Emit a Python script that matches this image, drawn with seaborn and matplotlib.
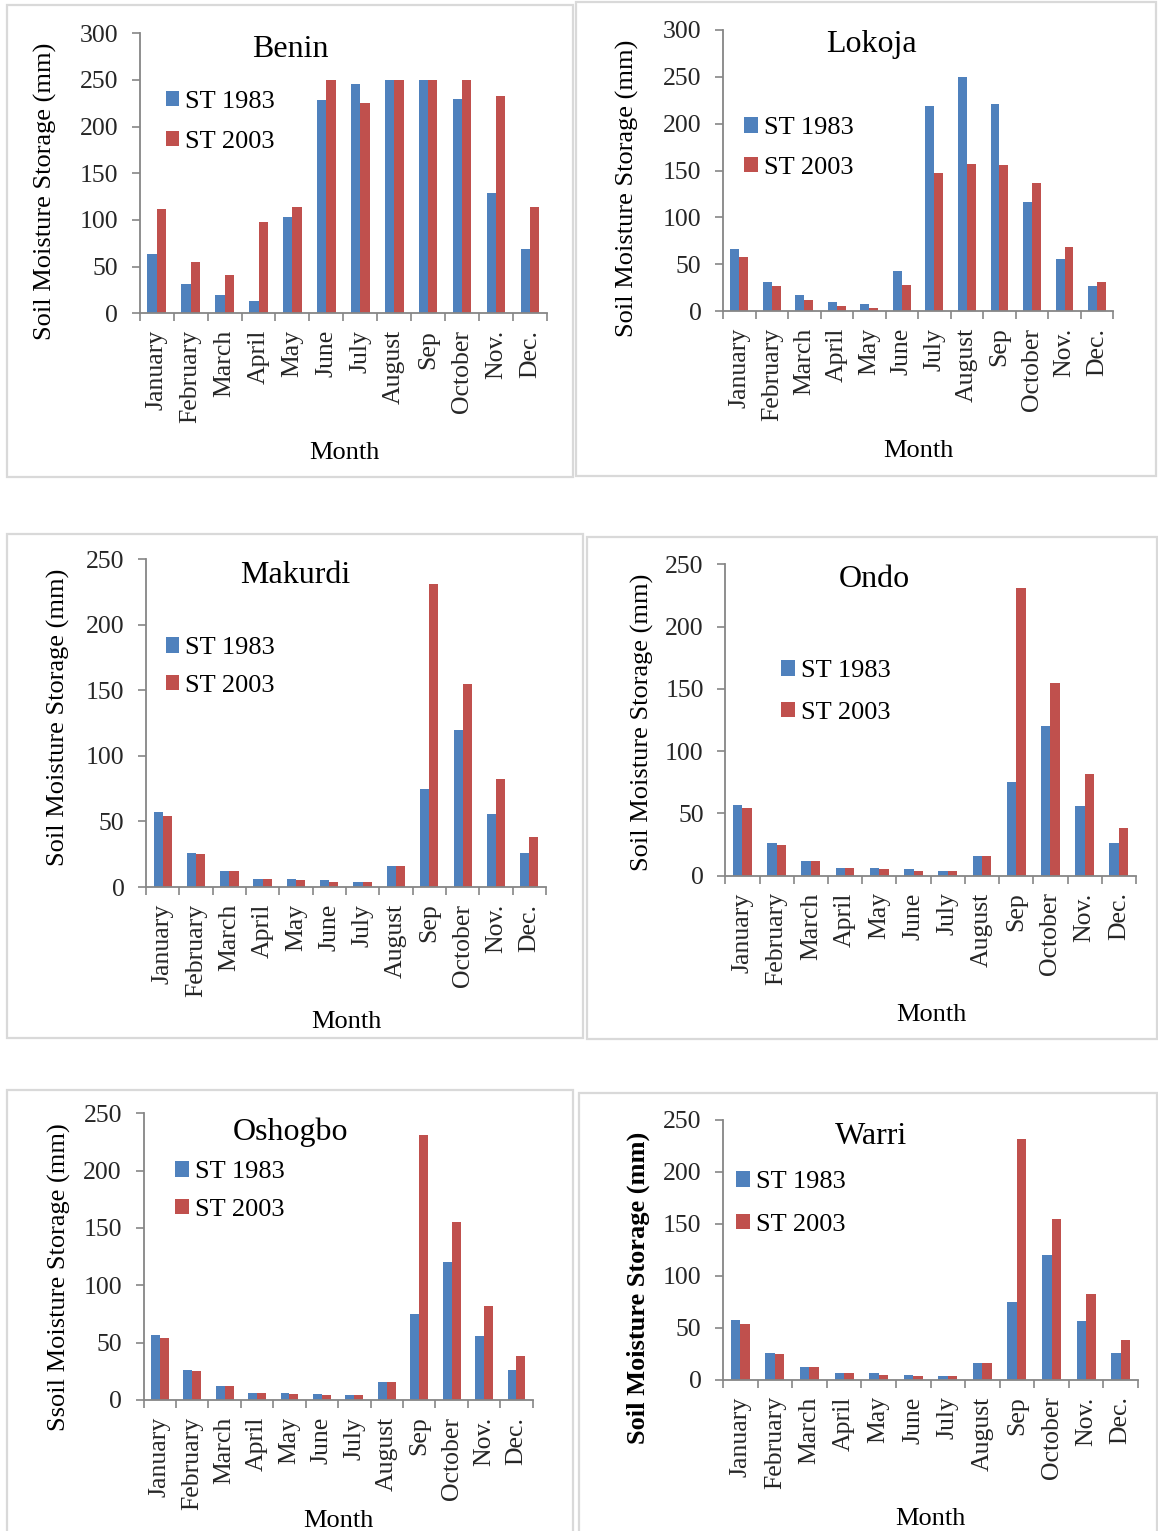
import matplotlib
matplotlib.use("Agg")
import matplotlib.pyplot as plt
import pandas as pd
import seaborn as sns
from matplotlib.patches import Rectangle

# ---- data -------------------------------------------------------------
months = ["January", "February", "March", "April", "May", "June",
          "July", "August", "Sep", "October", "Nov.", "Dec."]
series_names = ["ST 1983", "ST 2003"]

benin_1983 = [64, 31, 20, 13, 103, 229, 246, 250, 250, 230, 129, 69]
benin_2003 = [112, 55, 41, 98, 114, 250, 225, 250, 250, 250, 233, 114]

lokoja_1983 = [66, 31, 17, 10, 7, 43, 219, 250, 221, 116, 55, 27]
lokoja_2003 = [58, 27, 12, 5, 3, 28, 147, 157, 156, 137, 68, 31]

makurdi_1983 = [57, 26, 12, 6, 6, 5, 4, 16, 75, 120, 56, 26]
makurdi_2003 = [54, 25, 12, 6, 5, 4, 4, 16, 231, 155, 82, 38]

ondo_1983 = [57, 26, 12, 6, 6, 5, 4, 16, 75, 120, 56, 26]
ondo_2003 = [54, 25, 12, 6, 5, 4, 4, 16, 231, 155, 82, 38]

oshogbo_1983 = [57, 26, 12, 6, 6, 5, 4, 16, 75, 120, 56, 26]
oshogbo_2003 = [54, 25, 12, 6, 5, 4, 4, 16, 231, 155, 82, 38]

warri_1983 = [57, 26, 12, 6, 6, 5, 4, 16, 75, 120, 56, 26]
warri_2003 = [54, 25, 12, 6, 5, 4, 4, 16, 231, 155, 82, 38]

y_max_north = 300
y_max_south = 250
y_label = "Soil Moisture Storage (mm)"
y_label_oshogbo = "Ssoil Moisture Storage (mm)"
x_label = "Month"

# ---- style ------------------------------------------------------------
sns.set_theme(style="white")
plt.rcParams["font.family"] = ["Liberation Serif", "DejaVu Serif"]
plt.rcParams["text.color"] = "black"

BLUE = "#4F81BD"
RED = "#C0504D"
AXIS_GREY = "#868686"
BOX_GREY = "#D9D9D9"

W, H = 1158, 1531
fig = plt.figure(figsize=(W / 100, H / 100), dpi=100)
fig.patch.set_facecolor("white")


def fx(x):
    return x / W


def fy(y):
    return 1 - y / H


# one entry per station panel, positions in pixels
panels = [
    dict(name="Benin", a=benin_1983, b=benin_2003, ymax=y_max_north, ylab=y_label, bold=False,
         axes=(139.8, 33.3, 546.8, 313.3), box=(7, 5, 572.5, 477),
         title=(290, 56.7), month=(344, 459), legend=(165.5, 121.7, 0.73), ylab_pos=(45, 191.7)),
    dict(name="Lokoja", a=lokoja_1983, b=lokoja_2003, ymax=y_max_north, ylab=y_label, bold=False,
         axes=(723, 30, 1113.3, 311), box=(576, 2, 1156, 476),
         title=(871, 51.7), month=(918, 456.7), legend=(744, 148, 0.69), ylab_pos=(627, 188.3)),
    dict(name="Makurdi", a=makurdi_1983, b=makurdi_2003, ymax=y_max_south, ylab=y_label, bold=False,
         axes=(146, 559, 546, 887), box=(7.5, 534, 583, 1038),
         title=(295, 582.7), month=(346, 1028), legend=(165.5, 667, 0.61), ylab_pos=(58, 717.5)),
    dict(name="Ondo", a=ondo_1983, b=ondo_2003, ymax=y_max_south, ylab=y_label, bold=False,
         axes=(725.3, 564.3, 1136, 875.7), box=(587, 537, 1157, 1039),
         title=(874, 586.7), month=(931.5, 1020.7), legend=(781, 692, 0.77), ylab_pos=(642, 722.8)),
    dict(name="Oshogbo", a=oshogbo_1983, b=oshogbo_2003, ymax=y_max_south, ylab=y_label_oshogbo, bold=False,
         axes=(143.5, 1113.3, 532.7, 1400), box=(7.4, 1090, 573.4, 1540),
         title=(291, 1140), month=(338.5, 1526.7), legend=(175, 1191, 0.61), ylab_pos=(59, 1276.7)),
    dict(name="Warri", a=warri_1983, b=warri_2003, ymax=y_max_south, ylab=y_label, bold=True,
         axes=(723, 1119.7, 1138, 1379.7), box=(579, 1093, 1157, 1540),
         title=(871, 1144), month=(930, 1525), legend=(736, 1203.4, 0.81), ylab_pos=(638, 1287.5)),
]

for p in panels:
    # panel frame
    x0, y0, x1, y1 = p["box"]
    fig.patches.append(Rectangle((fx(x0), fy(y1)), fx(x1) - fx(x0), fy(y0) - fy(y1),
                                 transform=fig.transFigure, fill=False,
                                 edgecolor=BOX_GREY, linewidth=1.6, zorder=0))

    left, top, right, bottom = p["axes"]
    ax = fig.add_axes([fx(left), fy(bottom), fx(right) - fx(left), fy(top) - fy(bottom)])
    ax.set_facecolor("none")

    df = pd.DataFrame({
        "Month": months * 2,
        "Storage": list(p["a"]) + list(p["b"]),
        "Series": [series_names[0]] * len(months) + [series_names[1]] * len(months),
    })
    sns.barplot(data=df, x="Month", y="Storage", hue="Series", order=months,
                hue_order=series_names, palette=[BLUE, RED], saturation=1,
                width=0.55, gap=0, linewidth=0, ax=ax)

    ax.set_xlim(-0.5, len(months) - 0.5)
    ax.set_ylim(0, p["ymax"])
    ax.set_xlabel("")
    ax.set_ylabel("")

    for side in ("top", "right"):
        ax.spines[side].set_visible(False)
    for side in ("left", "bottom"):
        ax.spines[side].set_color(AXIS_GREY)
        ax.spines[side].set_linewidth(1.3)

    ax.set_yticks(range(0, p["ymax"] + 1, 50))
    ax.tick_params(axis="y", direction="out", length=6, width=1.2, color=AXIS_GREY,
                   labelsize=18.5, pad=9.5, left=True)
    ax.set_xticks(range(len(months)))
    ax.set_xticklabels(months, rotation=90, ha="center", va="top")
    ax.tick_params(axis="x", which="major", length=0, labelsize=18.5, pad=12)
    ax.set_xticks([i - 0.5 for i in range(len(months) + 1)], minor=True)
    ax.tick_params(axis="x", which="minor", direction="out", length=5.5, width=1.2,
                   color=AXIS_GREY, bottom=True)
    ax.grid(False)

    # legend
    handles, labels = ax.get_legend_handles_labels()
    if ax.get_legend() is not None:
        ax.get_legend().remove()
    lx, ly, spacing = p["legend"]
    ax.legend(handles, labels, loc="center left", bbox_to_anchor=(fx(lx), fy(ly)),
              bbox_transform=fig.transFigure, frameon=False, fontsize=19,
              handlelength=0.52, handleheight=0.52, handletextpad=0.22,
              labelspacing=spacing * 18 / 19, borderpad=0, borderaxespad=0)

    # station title, axis titles
    tx, ty = p["title"]
    fig.text(fx(tx), fy(ty), p["name"], ha="center", va="baseline", fontsize=23)
    mx, my = p["month"]
    fig.text(fx(mx), fy(my), x_label, ha="center", va="baseline", fontsize=19)
    yx, yy = p["ylab_pos"]
    fig.text(fx(yx), fy(yy), p["ylab"], rotation=90, ha="center", va="center",
             fontsize=19, fontweight="bold" if p["bold"] else "normal")

fig.savefig("out.png", dpi=100, facecolor="white")
